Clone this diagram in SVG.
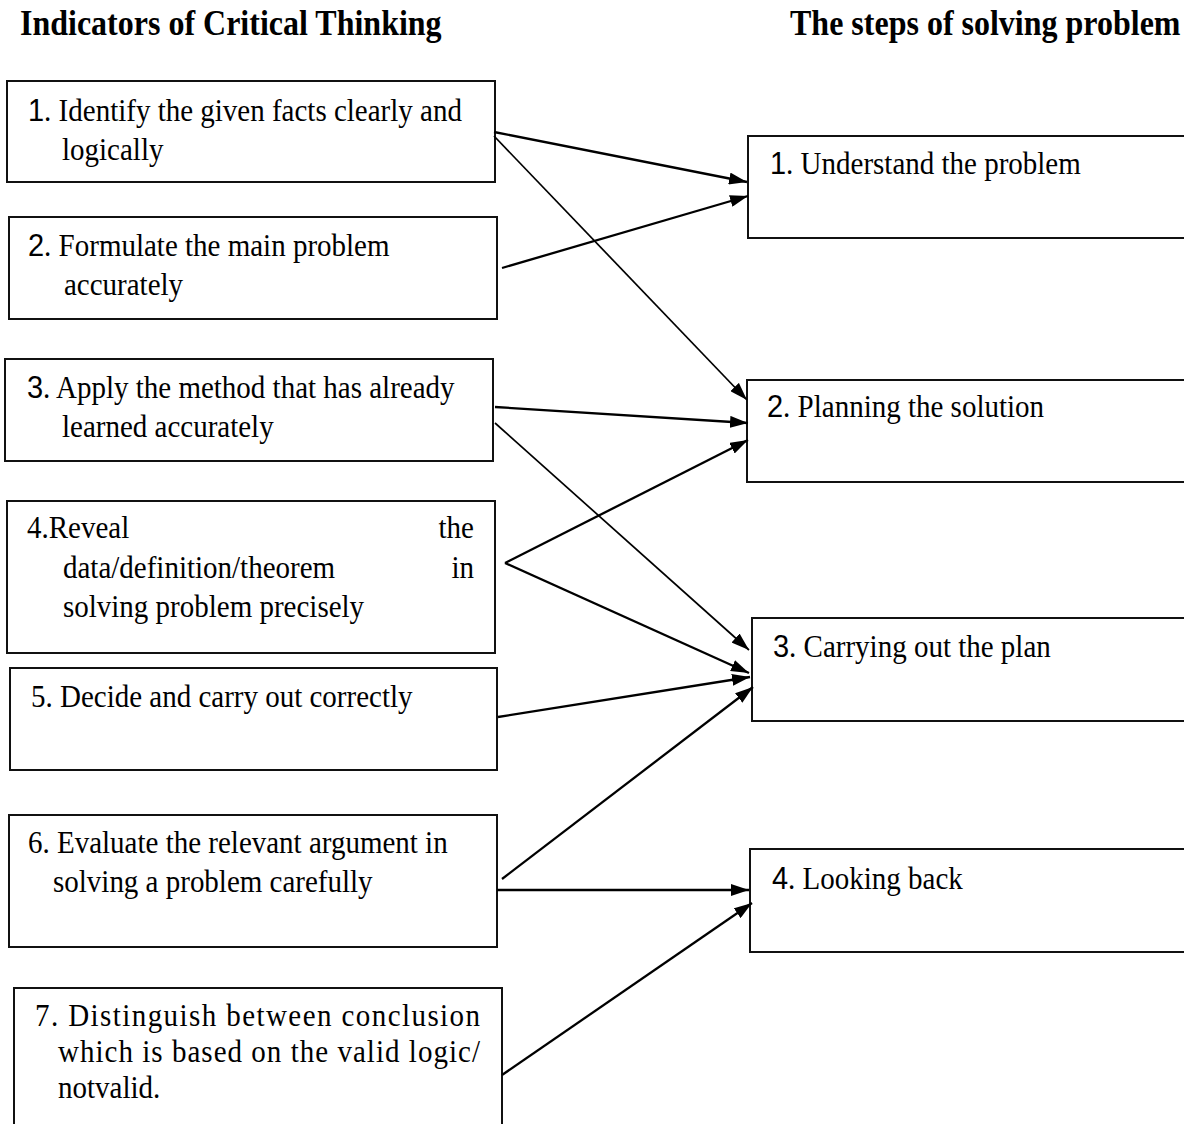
<svg xmlns="http://www.w3.org/2000/svg" width="1184" height="1124" viewBox="0 0 1184 1124">
<style>
  .box { fill: #fff; stroke: #111; stroke-width: 2; }
  .t { font-family: "Liberation Serif", "Times New Roman", serif; font-size: 29px; fill: #000; }
  .h { font-family: "Liberation Serif", "Times New Roman", serif; font-size: 32px; font-weight: bold; fill: #000; }
  .n { font-family: "Liberation Sans", Arial, sans-serif; }
  .c { stroke: #000; stroke-width: 2.3; fill: none; marker-end: url(#ah); }
  .thin { stroke-width: 1.7; }
</style>
<defs>
  <marker id="ah" viewBox="0 0 18 12" refX="18" refY="6" markerWidth="18" markerHeight="12" markerUnits="userSpaceOnUse" orient="auto">
    <path d="M0,0 L18,6 L0,12 z" fill="#000"/>
  </marker>
</defs>
<rect width="1184" height="1124" fill="#fff"/>

<g id="headings">
  <text class="h" x="20" y="0" transform="translate(0,35) scale(1,1.12)">Indicators of Critical Thinking</text>
  <text class="h" x="790" y="0" transform="translate(0,35) scale(1,1.12)">The steps of solving problem</text>
</g>

<g id="ind1">
  <rect class="box" x="7" y="81" width="488" height="101"/>
  <text class="t" x="28" y="0" transform="translate(0,121) scale(1,1.08)"><tspan class="n">1</tspan>. Identify the given facts clearly and</text>
  <text class="t" x="62" y="0" transform="translate(0,160) scale(1,1.08)">logically</text>
</g>
<g id="ind2">
  <rect class="box" x="9" y="217" width="488" height="102"/>
  <text class="t" x="28" y="0" transform="translate(0,256) scale(1,1.08)"><tspan class="n">2</tspan>. Formulate the main problem</text>
  <text class="t" x="64" y="0" transform="translate(0,295) scale(1,1.08)">accurately</text>
</g>
<g id="ind3">
  <rect class="box" x="5" y="359" width="488" height="102"/>
  <text class="t" x="27" y="0" transform="translate(0,398) scale(1,1.08)"><tspan class="n">3</tspan>. Apply the method that has already</text>
  <text class="t" x="62" y="0" transform="translate(0,437) scale(1,1.08)">learned accurately</text>
</g>
<g id="ind4">
  <rect class="box" x="7" y="501" width="488" height="152"/>
  <text class="t" x="27" y="0" transform="translate(0,538) scale(1,1.08)">4.Reveal</text>
  <text class="t" x="474" y="0" text-anchor="end" transform="translate(0,538) scale(1,1.08)">the</text>
  <text class="t" x="63" y="0" transform="translate(0,578) scale(1,1.08)">data/definition/theorem</text>
  <text class="t" x="474" y="0" text-anchor="end" transform="translate(0,578) scale(1,1.08)">in</text>
  <text class="t" x="63" y="0" transform="translate(0,617) scale(1,1.08)">solving problem precisely</text>
</g>
<g id="ind5">
  <rect class="box" x="10" y="668" width="487" height="102"/>
  <text class="t" x="31" y="0" transform="translate(0,707) scale(1,1.08)">5. Decide and carry out correctly</text>
</g>
<g id="ind6">
  <rect class="box" x="9" y="815" width="488" height="132"/>
  <text class="t" x="28" y="0" transform="translate(0,853) scale(1,1.08)">6. Evaluate the relevant argument in</text>
  <text class="t" x="53" y="0" transform="translate(0,892) scale(1,1.08)">solving a problem carefully</text>
</g>
<g id="ind7">
  <rect class="box" x="14" y="988" width="488" height="150"/>
  <text class="t" x="35" y="0" textLength="445" lengthAdjust="spacing" transform="translate(0,1026) scale(1,1.08)">7.  Distinguish between conclusion</text>
  <text class="t" x="58" y="0" textLength="422" lengthAdjust="spacing" transform="translate(0,1062) scale(1,1.08)">which is based on the valid logic/</text>
  <text class="t" x="58" y="0" transform="translate(0,1098) scale(1,1.08)">notvalid.</text>
</g>

<g id="step1">
  <rect class="box" x="748" y="136" width="446" height="102"/>
  <text class="t" x="770" y="0" transform="translate(0,174) scale(1,1.08)"><tspan class="n">1</tspan>. Understand the problem</text>
</g>
<g id="step2">
  <rect class="box" x="747" y="380" width="447" height="102"/>
  <text class="t" x="767" y="0" transform="translate(0,417) scale(1,1.08)"><tspan class="n">2</tspan>. Planning the solution</text>
</g>
<g id="step3">
  <rect class="box" x="752" y="618" width="442" height="103"/>
  <text class="t" x="773" y="0" transform="translate(0,657) scale(1,1.08)"><tspan class="n">3</tspan>. Carrying out the plan</text>
</g>
<g id="step4">
  <rect class="box" x="750" y="849" width="444" height="103"/>
  <text class="t" x="772" y="0" transform="translate(0,889) scale(1,1.08)"><tspan class="n">4</tspan>. Looking back</text>
</g>

<g id="connectors">
  <line class="c" x1="494" y1="132" x2="747" y2="182"/>
  <line class="c thin" x1="494" y1="136" x2="747" y2="400"/>
  <line class="c" x1="502" y1="268" x2="748" y2="196"/>
  <line class="c" x1="495" y1="407" x2="748" y2="423"/>
  <line class="c thin" x1="495" y1="423" x2="749" y2="650"/>
  <line class="c" x1="505" y1="563" x2="748" y2="440"/>
  <line class="c" x1="505" y1="563" x2="749" y2="673"/>
  <line class="c" x1="498" y1="717" x2="750" y2="677"/>
  <line class="c" x1="502" y1="879" x2="753" y2="687"/>
  <line class="c" x1="497" y1="890" x2="749" y2="890"/>
  <line class="c" x1="502" y1="1075" x2="752" y2="903"/>
</g>
</svg>
